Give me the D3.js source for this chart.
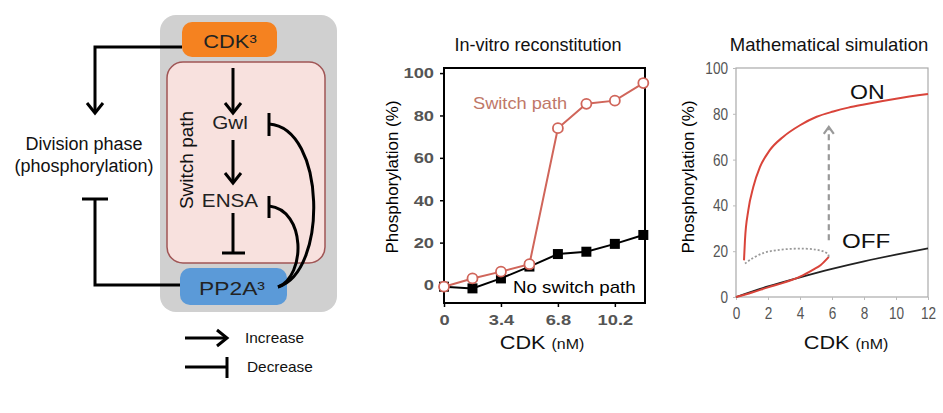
<!DOCTYPE html>
<html>
<head>
<meta charset="utf-8">
<script src="https://cdn.jsdelivr.net/npm/d3@7"></script>
<style>
  body { margin: 0; background: #fff; }
  text { font-family: "Liberation Sans", Arial, sans-serif; }
</style>
</head>
<body>
<div id="fig"></div>
<script>
// in-vitro reconstitution data
var invitroCdk = [0, 1.7, 3.4, 5.1, 6.8, 8.5, 10.2, 11.9];
var switchPath = [-0.8, 3.1, 6.3, 9.8, 74, 85.5, 87, 95.3];
var noSwitchPath = [-0.8, -1.6, 3.1, 8.7, 14.6, 15.7, 19.4, 23.6];
var invitroXTicks = [0, 3.4, 6.8, 10.2];
var yTicks = [0, 20, 40, 60, 80, 100];

// simulation curves
var onX = [0.5, 0.56, 0.77, 1.08, 1.5, 2.1, 2.96, 4.0, 5.04, 6.08, 7.02, 8.0, 10.0, 12.0];
var onY = [16, 24.8, 37.9, 48, 56.8, 64, 70, 75, 78.7, 81, 82.7, 84.1, 86.6, 88.6];
var unstableX = [0.56, 0.9, 1.7, 2.5, 3.4, 4.3, 5.0, 5.5, 5.75, 5.8];
var unstableY = [14.6, 16.3, 19.2, 20.4, 21, 21.1, 20.7, 19.8, 18.7, 17.5];
var lowX = [0, 1, 2, 3, 4, 4.83, 5.3, 5.8];
var lowY = [0, 2, 4.2, 6.3, 8.9, 12, 14, 17.5];
var offX = [0, 2, 4, 6, 8, 10, 12];
var offY = [0, 4.6, 8.6, 12.3, 15.6, 18.5, 21.2];
var simXTicks = [0, 2, 4, 6, 8, 10, 12];
var jumpX = [5.8, 5.8];
var jumpY = [24.8, 74.3];

var svg = d3.select("#fig").append("svg")
  .attr("width", 943)
  .attr("height", 413);

// horizontal text, slightly widened like the source picture
function htext(parent, x, y, t, size, anchor, sx, fill) {
  return parent.append("text")
    .attr("transform", "translate(" + x + "," + y + ") scale(" + sx + ",1)")
    .attr("text-anchor", anchor || "middle")
    .style("font-size", size + "px")
    .style("fill", fill || "#111")
    .text(t);
}
function stretchTicks(axisG, sx) {
  axisG.selectAll("text").each(function() {
    var t = d3.select(this);
    var xv = +t.attr("x") || 0;
    t.attr("x", xv / sx).attr("transform", "scale(" + sx + ",1)");
  });
}

// ---------- diagram ----------
var dg = svg.append("g");

dg.append("rect").attr("x", 160).attr("y", 15).attr("width", 177).attr("height", 297)
  .attr("rx", 16).style("fill", "#d0d0d0");
dg.append("rect").attr("x", 167).attr("y", 62).attr("width", 158).attr("height", 201)
  .attr("rx", 16).style("fill", "#f8e1de").style("stroke", "#a05555").style("stroke-width", 1.5);
dg.append("rect").attr("x", 182).attr("y", 22).attr("width", 95).attr("height", 35)
  .attr("rx", 10).style("fill", "#f58220");
dg.append("rect").attr("x", 180).attr("y", 268).attr("width", 107).attr("height", 37)
  .attr("rx", 10).style("fill", "#5b9ad8");

htext(dg, 230, 48, "CDK³", 19, "middle", 1.15, "#222");
htext(dg, 232, 295, "PP2A³", 19, "middle", 1.2, "#222");
htext(dg, 230, 129, "Gwl", 18, "middle", 1.15, "#222");
htext(dg, 230, 207, "ENSA", 18, "middle", 1.15, "#222");
htext(dg, 84, 150, "Division phase", 18, "middle", 1.0, "#111");
htext(dg, 84, 172, "(phosphorylation)", 18, "middle", 1.0, "#111");
htext(dg, 245, 343, "Increase", 14, "start", 1.1, "#111");
htext(dg, 247, 372, "Decrease", 14, "start", 1.1, "#111");
dg.append("text").text("Switch path")
  .attr("transform", "translate(186,160) rotate(-90)")
  .attr("text-anchor", "middle").attr("dominant-baseline", "central")
  .style("font-size", "19px").style("fill", "#111");

function stroke(sel, w) {
  return sel.style("fill", "none").style("stroke", "#000").style("stroke-width", w || 3);
}
// line ending in a chevron arrow head, direction given by the last segment
function arrowTo(d, tx, ty, dx, dy) {
  stroke(dg.append("path").attr("d", d));
  var s = 8, h = 10;
  var px = -dy, py = dx;
  stroke(dg.append("path").attr("d",
    "M" + (tx - dx * h + px * s) + "," + (ty - dy * h + py * s) +
    " L" + tx + "," + ty +
    " L" + (tx - dx * h - px * s) + "," + (ty - dy * h - py * s)));
}
function bar(x1, y1, x2, y2) {
  stroke(dg.append("line").attr("x1", x1).attr("y1", y1).attr("x2", x2).attr("y2", y2));
}

arrowTo("M182,47 H95 V113", 95, 113, 0, 1);
stroke(dg.append("path").attr("d", "M180,285 H95 V199"));
bar(82, 199, 108, 199);

arrowTo("M233,68 V113", 233, 113, 0, 1);
arrowTo("M233,140 V183", 233, 183, 0, 1);
stroke(dg.append("path").attr("d", "M233,213 V253"));
bar(222, 253, 245, 253);

stroke(dg.append("path").attr("d", "M278,287 C328,272 326,128 269,124"));
bar(269, 113, 269, 136);
stroke(dg.append("path").attr("d", "M278,287 C306,276 306,210 269,206"));
bar(269, 196, 269, 218);

arrowTo("M185,338 H227", 227, 338, 1, 0);
bar(185, 367, 227, 367);
bar(227, 357, 227, 378);

// ---------- in-vitro chart ----------
var x1 = d3.scaleLinear().domain([0, 12]).range([444, 645]);
var y1 = d3.scaleLinear().domain([-8.5, 102.4]).range([303, 68]);
var g1 = svg.append("g");

g1.append("rect").attr("x", x1(0)).attr("y", y1(102.4))
  .attr("width", x1(12) - x1(0)).attr("height", y1(-8.5) - y1(102.4))
  .style("fill", "none").style("stroke", "#000").style("stroke-width", 2);

var ax1 = g1.append("g").attr("transform", "translate(" + x1(0) + ",0)")
  .call(d3.axisLeft(y1).tickValues(yTicks).tickSize(4).tickPadding(6));
var bx1 = g1.append("g").attr("transform", "translate(0," + y1(-8.5) + ")")
  .call(d3.axisBottom(x1).tickValues(invitroXTicks).tickSize(4).tickPadding(7)
    .tickFormat(function(d) { return d; }));
[ax1, bx1].forEach(function(a) {
  a.select(".domain").remove();
  a.selectAll("line").style("stroke", "#000").style("stroke-width", 1.5);
  a.selectAll("text").style("font-size", "15px").style("fill", "#555")
    .style("font-weight", "bold").style("font-family", "Liberation Sans, Arial, sans-serif");
  stretchTicks(a, 1.22);
});

var line1 = d3.line().x(function(d) { return x1(d[0]); }).y(function(d) { return y1(d[1]); });
var sw = d3.zip(invitroCdk, switchPath);
var nsw = d3.zip(invitroCdk, noSwitchPath);

g1.append("path").datum(nsw).attr("d", line1)
  .style("fill", "none").style("stroke", "#000").style("stroke-width", 2);
g1.selectAll(".sq").data(nsw).enter().append("rect")
  .attr("x", function(d) { return x1(d[0]) - 5; })
  .attr("y", function(d) { return y1(d[1]) - 5; })
  .attr("width", 10).attr("height", 10).style("fill", "#000");
g1.append("path").datum(sw).attr("d", line1)
  .style("fill", "none").style("stroke", "#d0655a").style("stroke-width", 2);
g1.selectAll(".ci").data(sw).enter().append("circle")
  .attr("cx", function(d) { return x1(d[0]); })
  .attr("cy", function(d) { return y1(d[1]); })
  .attr("r", 5).style("fill", "#fff").style("stroke", "#d0655a").style("stroke-width", 1.8);

htext(g1, 473, 109, "Switch path", 16, "start", 1.14, "#c07868");
htext(g1, 513, 293, "No switch path", 16, "start", 1.17, "#000");
htext(g1, 538, 51, "In-vitro reconstitution", 18, "middle", 1.0, "#111");
g1.append("text").text("Phosphorylation (%)")
  .attr("transform", "translate(398,177) rotate(-90)").attr("text-anchor", "middle")
  .style("font-size", "17px").style("fill", "#000");
var xl1 = htext(g1, 542, 349, "", 19, "middle", 1.14, "#111");
xl1.append("tspan").text("CDK ");
xl1.append("tspan").text("(nM)").style("font-size", "14px");

// ---------- simulation chart ----------
var x2 = d3.scaleLinear().domain([0, 12]).range([736, 928]);
var y2 = d3.scaleLinear().domain([0, 100]).range([297, 68]);
var g2 = svg.append("g");

g2.append("rect").attr("x", x2(0)).attr("y", y2(100))
  .attr("width", x2(12) - x2(0)).attr("height", y2(0) - y2(100))
  .style("fill", "none").style("stroke", "#aaa").style("stroke-width", 1.2);

var ax2 = g2.append("g").attr("transform", "translate(" + x2(0) + ",0)")
  .call(d3.axisLeft(y2).tickValues(yTicks).tickSize(3).tickPadding(5));
var bx2 = g2.append("g").attr("transform", "translate(0," + y2(0) + ")")
  .call(d3.axisBottom(x2).tickValues(simXTicks).tickSize(3).tickPadding(7));
[ax2, bx2].forEach(function(a) {
  a.select(".domain").remove();
  a.selectAll("line").style("stroke", "#bbb");
  a.selectAll("text").style("font-size", "17px").style("fill", "#555")
    .style("font-family", "Liberation Sans, Arial, sans-serif");
  stretchTicks(a, 0.8);
});

var line2 = d3.line().x(function(d) { return x2(d[0]); }).y(function(d) { return y2(d[1]); })
  .curve(d3.curveCatmullRom);
var line2m = d3.line().x(function(d) { return x2(d[0]); }).y(function(d) { return y2(d[1]); })
  .curve(d3.curveMonotoneX);

g2.append("path").datum(d3.zip(offX, offY)).attr("d", line2m)
  .style("fill", "none").style("stroke", "#222").style("stroke-width", 1.8);
g2.append("path").datum(d3.zip(lowX, lowY)).attr("d", line2m)
  .style("fill", "none").style("stroke", "#d9443a").style("stroke-width", 2);
g2.append("path").datum(d3.zip(onX, onY)).attr("d", line2m)
  .style("fill", "none").style("stroke", "#d9443a").style("stroke-width", 2);
g2.append("path").datum(d3.zip(unstableX, unstableY)).attr("d", line2)
  .style("fill", "none").style("stroke", "#999").style("stroke-width", 1.8)
  .style("stroke-dasharray", "2,2");

var jump = d3.zip(jumpX, jumpY);
g2.append("line")
  .attr("x1", x2(jump[0][0])).attr("y1", y2(jump[0][1]))
  .attr("x2", x2(jump[1][0])).attr("y2", y2(jump[1][1]) + 2)
  .style("stroke", "#999").style("stroke-width", 2.2).style("stroke-dasharray", "6,4");
g2.append("path")
  .attr("d", "M" + (x2(jump[1][0]) - 5) + "," + (y2(jump[1][1]) + 7) +
    " L" + x2(jump[1][0]) + "," + y2(jump[1][1]) +
    " L" + (x2(jump[1][0]) + 5) + "," + (y2(jump[1][1]) + 7))
  .style("fill", "none").style("stroke", "#999").style("stroke-width", 2.2);

htext(g2, 850, 99, "ON", 21, "start", 1.1, "#111");
htext(g2, 842, 248, "OFF", 21, "start", 1.15, "#111");
htext(g2, 829, 51, "Mathematical simulation", 18.5, "middle", 1.0, "#111");
g2.append("text").text("Phosphorylation (%)")
  .attr("transform", "translate(694,177) rotate(-90)").attr("text-anchor", "middle")
  .style("font-size", "17px").style("fill", "#000");
var xl2 = htext(g2, 846, 349, "", 19, "middle", 1.14, "#111");
xl2.append("tspan").text("CDK ");
xl2.append("tspan").text("(nM)").style("font-size", "14px");
</script>
</body>
</html>
